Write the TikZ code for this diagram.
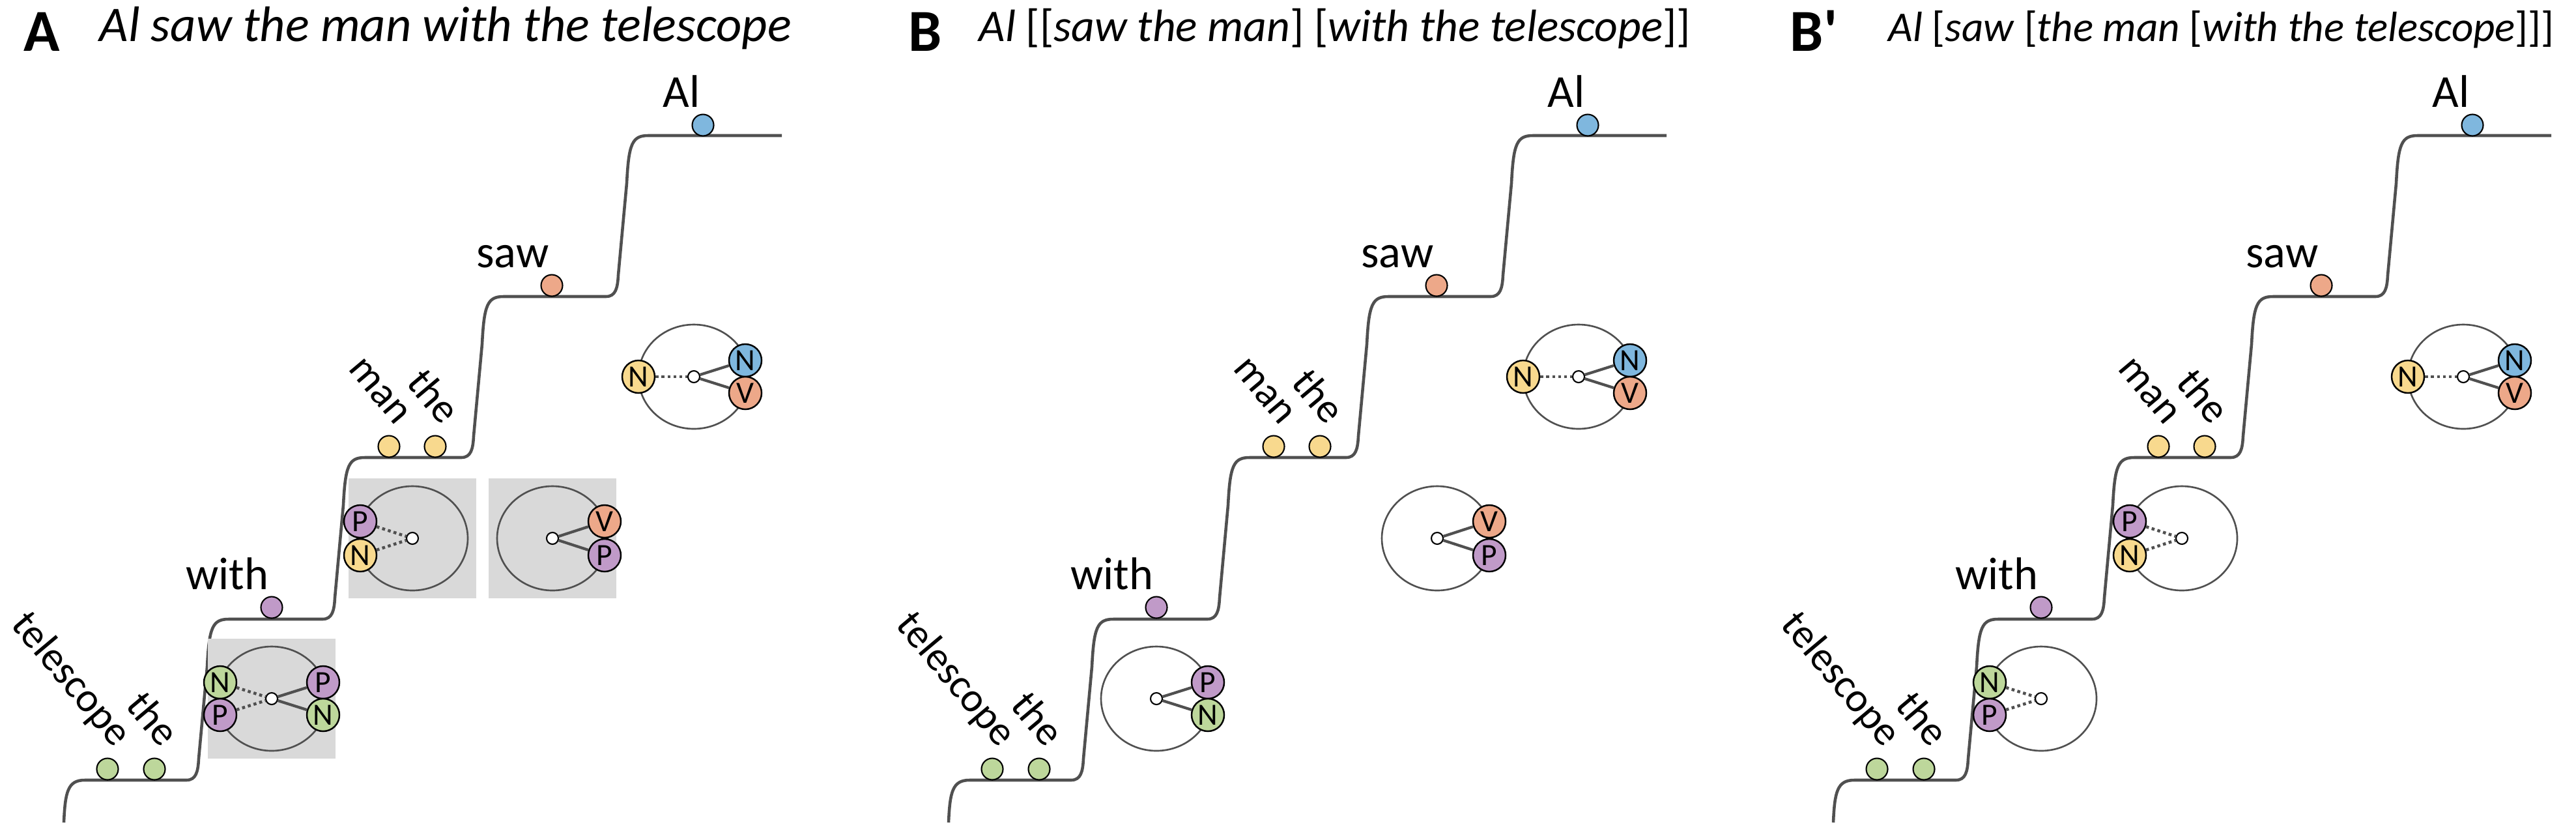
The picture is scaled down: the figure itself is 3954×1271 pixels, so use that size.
\documentclass[tikz,border=0pt]{standalone}
\usepackage{fontspec}
\setmainfont{Carlito}
\usetikzlibrary{positioning}
\usetikzlibrary{calc}

\definecolor{lgreen}{HTML}{BDD79B}
\definecolor{lpurple}{HTML}{C09AC8}
\definecolor{lyellow}{HTML}{F8D98E}
\definecolor{lblue}{HTML}{7FB7DE}
\definecolor{lsalmon}{HTML}{EDA889}
\definecolor{boxgray}{HTML}{D9D9D9}
\definecolor{linegray}{HTML}{505050}

\tikzset{
  paneltag/.style={font=\fontsize{26}{30}\selectfont\bfseries, anchor=base west, inner sep=0pt},
  titletext/.style={font=\fontsize{19.8}{24}\selectfont\itshape, anchor=base west, inner sep=0pt},
  wordtext/.style={font=\fontsize{20}{24}\selectfont, inner sep=0pt},
  slanttext/.style={font=\fontsize{18}{21}\selectfont, inner sep=0pt, rotate=-50, anchor=base east},
  word/.style={circle, draw=black, line width=0.6pt, inner sep=0pt, minimum size=3.3mm},
  cat/.style={circle, draw=black, line width=0.7pt, inner sep=0pt, minimum size=5mm, font=\fontsize{13.5}{15}\selectfont},
  hub/.style={circle, draw=black, fill=white, line width=0.6pt, inner sep=0pt, minimum size=1.8mm},
  stairline/.style={draw=linegray, line width=1.3pt},
  ringline/.style={draw=linegray, line width=0.75pt},
  tie/.style={draw=linegray, line width=1.2pt},
  loose/.style={draw=linegray, line width=1.3pt, dash pattern=on 1.3pt off 1.3pt}
}

\newcommand{\hubring}[2]{%
  \draw[ringline] (#2) ellipse (85 and 80);
  \node[hub] (#1) at (#2) {};}

\begin{document}
\begin{tikzpicture}[x=0.1mm, y=-0.1mm]
\useasboundingbox (0,0) rectangle (3954,1271);

% titles
\node[paneltag] (tagA) at (36,78) {A};
\node[titletext, font=\fontsize{21.8}{26}\selectfont\itshape] (titleA) at (152,63) {Al saw the man with the telescope};
\node[paneltag] (tagB) at (1394,78) {B};
\node[titletext] (titleB) at (1502,63) {\textit{Al} \textup{[[}\textit{saw the man}\textup{]} \textup{[}\textit{with the telescope}\textup{]]}};
\node[paneltag] (tagC) at (2747,78) {B\textquotesingle};
\node[titletext, font=\fontsize{18.5}{22}\selectfont\itshape] (titleC) at (2898,63) {\textit{Al} \textup{[}\textit{saw} \textup{[}\textit{the man} \textup{[}\textit{with the telescope}\textup{]]]}};

% stairs, words and the top structure: the same in every panel
\foreach \p/\s in {A/0, B/1358, C/2716} {
  \begin{scope}[shift={(\s,0)}]
    \draw[stairline] (98,1262) .. controls (100,1215) and (104,1197) .. (130,1197)
      \foreach \xr/\yl/\yu in {313/1197/950, 522/950/702, 735/702/455, 957/455/208} {
        -- ({\xr-27},\yl) .. controls ({\xr-12},\yl) and ({\xr-9},{\yl-13}) .. ({\xr-8},{\yl-33})
        -- ({\xr+5},{\yu+73}) .. controls ({\xr+8},{\yu+13}) and ({\xr+13},\yu) .. ({\xr+38},\yu)
      } -- (1200,208);

    \node[word, fill=lgreen] (\p-tel) at (165,1180) {};
    \node[word, fill=lgreen] (\p-the1) at (237,1180) {};
    \node[word, fill=lpurple] (\p-with) at (417,932) {};
    \node[word, fill=lyellow] (\p-man) at (597,685) {};
    \node[word, fill=lyellow] (\p-the2) at (668,685) {};
    \node[word, fill=lsalmon] (\p-saw) at (847,438) {};
    \node[word, fill=lblue] (\p-al) at (1079,192) {};

    \node[slanttext] at ($(\p-tel.north)+(10,-13)$) {telescope};
    \node[slanttext] at ($(\p-the1.north)+(10,-13)$) {the};
    \node[wordtext, anchor=base east] at ($(\p-with.north)+(-4,-10)$) {with};
    \node[slanttext] at ($(\p-man.north)+(10,-13)$) {man};
    \node[slanttext] at ($(\p-the2.north)+(10,-13)$) {the};
    \node[wordtext, anchor=base east] at ($(\p-saw.north)+(-4,-10)$) {saw};
    \node[wordtext, anchor=base east] at ($(\p-al.north)+(-4,-10)$) {Al};

    % top structure
    \hubring{\p-hub4}{1065,578}
    \node[cat, fill=lyellow] (\p-obj) at ($(\p-hub4)+(-85,0)$) {N};
    \node[cat, fill=lblue] (\p-subj) at ($(\p-hub4)+(79,-25)$) {N};
    \node[cat, fill=lsalmon] (\p-verb) at ($(\p-hub4)+(79,25)$) {V};
    \draw[loose] (\p-obj) -- (\p-hub4);
    \draw[tie] (\p-hub4) -- (\p-subj);
    \draw[tie] (\p-hub4) -- (\p-verb);
  \end{scope}
}

% panel A
\fill[boxgray] ($(417,1072)+(-98,-92)$) rectangle ++(196,184);
\fill[boxgray] ($(633,826)+(-98,-92)$) rectangle ++(196,184);
\fill[boxgray] ($(848,826)+(-98,-92)$) rectangle ++(196,184);
\hubring{A-hub1}{417,1072}
\node[cat, fill=lgreen] (A-n1) at ($(A-hub1)+(-79,-25)$) {N};
\node[cat, fill=lpurple] (A-p1) at ($(A-hub1)+(-79,25)$) {P};
\node[cat, fill=lpurple] (A-p2) at ($(A-hub1)+(79,-25)$) {P};
\node[cat, fill=lgreen] (A-n2) at ($(A-hub1)+(79,25)$) {N};
\draw[loose] (A-n1) -- (A-hub1);
\draw[loose] (A-p1) -- (A-hub1);
\draw[tie] (A-hub1) -- (A-p2);
\draw[tie] (A-hub1) -- (A-n2);
\hubring{A-hub2}{633,826}
\node[cat, fill=lpurple] (A-p3) at ($(A-hub2)+(-80,-26)$) {P};
\node[cat, fill=lyellow] (A-n3) at ($(A-hub2)+(-80,26)$) {N};
\draw[loose] (A-p3) -- (A-hub2);
\draw[loose] (A-n3) -- (A-hub2);
\hubring{A-hub3}{848,826}
\node[cat, fill=lsalmon] (A-v3) at ($(A-hub3)+(80,-26)$) {V};
\node[cat, fill=lpurple] (A-p4) at ($(A-hub3)+(80,26)$) {P};
\draw[tie] (A-hub3) -- (A-v3);
\draw[tie] (A-hub3) -- (A-p4);

% panel B
\hubring{B-hub1}{1775,1072}
\node[cat, fill=lpurple] (B-p2) at ($(B-hub1)+(79,-25)$) {P};
\node[cat, fill=lgreen] (B-n2) at ($(B-hub1)+(79,25)$) {N};
\draw[tie] (B-hub1) -- (B-p2);
\draw[tie] (B-hub1) -- (B-n2);
\hubring{B-hub3}{2206,826}
\node[cat, fill=lsalmon] (B-v3) at ($(B-hub3)+(80,-26)$) {V};
\node[cat, fill=lpurple] (B-p4) at ($(B-hub3)+(80,26)$) {P};
\draw[tie] (B-hub3) -- (B-v3);
\draw[tie] (B-hub3) -- (B-p4);

% panel B'
\hubring{C-hub1}{3133,1072}
\node[cat, fill=lgreen] (C-n1) at ($(C-hub1)+(-79,-25)$) {N};
\node[cat, fill=lpurple] (C-p1) at ($(C-hub1)+(-79,25)$) {P};
\draw[loose] (C-n1) -- (C-hub1);
\draw[loose] (C-p1) -- (C-hub1);
\hubring{C-hub2}{3349,826}
\node[cat, fill=lpurple] (C-p3) at ($(C-hub2)+(-80,-26)$) {P};
\node[cat, fill=lyellow] (C-n3) at ($(C-hub2)+(-80,26)$) {N};
\draw[loose] (C-p3) -- (C-hub2);
\draw[loose] (C-n3) -- (C-hub2);
\end{tikzpicture}
\end{document}
